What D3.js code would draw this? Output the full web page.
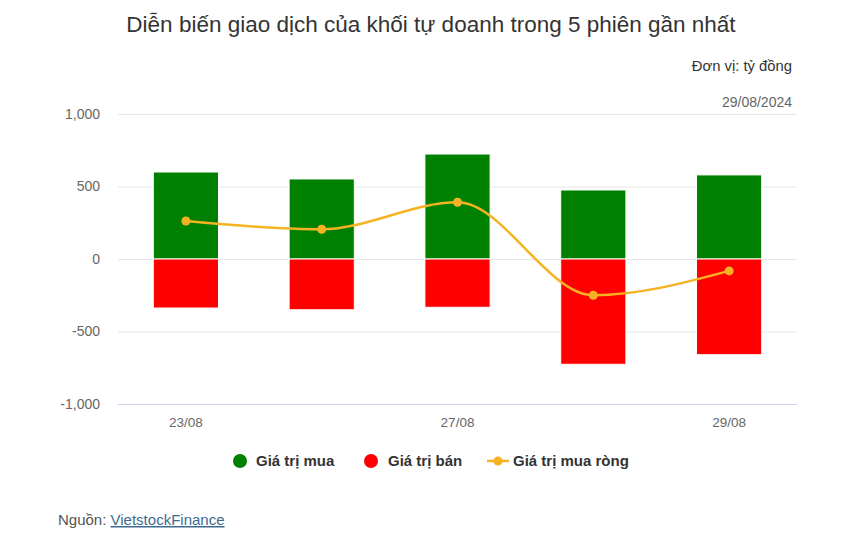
<!DOCTYPE html>
<html><head><meta charset="utf-8">
<script src="https://cdn.jsdelivr.net/npm/d3@7"></script>
<style>body{margin:0;background:#fff;font-family:"Liberation Sans",Arial,sans-serif}</style>
</head><body>
<svg id="c" width="867" height="545"></svg>
<script>
const categories = ["23/08","26/08","27/08","28/08","29/08"];
const buyValues = [600, 552, 724, 476, 580];
const sellValues = [-338, -350, -333, -726, -660];
const netValues = [262, 205, 391, -250, -82];
const yTicks = [-1000, -500, 0, 500, 1000];
const xLabelsShown = ["23/08","27/08","29/08"];
const seriesNames = ["Giá trị mua","Giá trị bán","Giá trị mua ròng"];
const colors = {buy:"#008000", sell:"#ff0000", net:"#f5b324"};

(function(){
const svg = d3.select("#c");
const pL = 118, pR = 797, pT = 114, pB = 404;
const x = d3.scaleBand().domain(categories).range([pL,pR]).paddingInner(0.52).paddingOuter(0.26);
const y = d3.scaleLinear().domain([-1000,1000]).range([pB, pT]);
const fmt = d => d3.format(",")(d).replace("\u2212","-");

svg.append("text").attr("x",431).attr("y",32).attr("text-anchor","middle")
  .attr("font-size",22.5).attr("fill","#333").text("Diễn biến giao dịch của khối tự doanh trong 5 phiên gần nhất");
svg.append("text").attr("x",792).attr("y",71).attr("text-anchor","end")
  .attr("font-size",14.8).attr("fill","#333").text("Đơn vị: tỷ đồng");
svg.append("text").attr("x",792).attr("y",107).attr("text-anchor","end")
  .attr("font-size",14).attr("fill","#666").text("29/08/2024");

// grid
const yAxis = d3.axisLeft(y).tickValues(yTicks).tickSize(-(pR-pL)).tickFormat(fmt);
const gy = svg.append("g").attr("transform",`translate(${pL},0)`).call(yAxis);
gy.select(".domain").remove();
gy.selectAll(".tick line").attr("stroke","#e6e6e6");
gy.selectAll(".tick text").attr("x",-18).attr("font-size",14).attr("fill","#666").attr("font-family","Liberation Sans, Arial, sans-serif");

// bars
svg.append("g").selectAll("rect.buy").data(buyValues).join("rect")
  .attr("x",(d,i)=>x(categories[i])).attr("width",x.bandwidth())
  .attr("y",d=>y(d)).attr("height",d=>y(0)-y(d))
  .attr("fill",colors.buy).attr("stroke","#fff").attr("stroke-width",1);
svg.append("g").selectAll("rect.sell").data(sellValues).join("rect")
  .attr("x",(d,i)=>x(categories[i])).attr("width",x.bandwidth())
  .attr("y",y(0)).attr("height",d=>y(d)-y(0))
  .attr("fill",colors.sell).attr("stroke","#fff").attr("stroke-width",1);

// x axis
const xAxis = d3.axisBottom(x).tickSize(0).tickFormat(d=>xLabelsShown.includes(d)?d:"");
const gx = svg.append("g").attr("transform",`translate(0,${pB})`).call(xAxis);
gx.select(".domain").attr("stroke","#ccd6eb").attr("d",`M${pL},0.5H${pR}`);
gx.selectAll(".tick text").attr("y",13).attr("font-size",13.5).attr("fill","#666").attr("font-family","Liberation Sans, Arial, sans-serif");

// net line
const cx = (i)=>x(categories[i])+x.bandwidth()/2;
const line = d3.line().x((d,i)=>cx(i)).y(d=>y(d)).curve(d3.curveMonotoneX);
svg.append("path").datum(netValues).attr("d",line).attr("fill","none")
  .attr("stroke",colors.net).attr("stroke-width",2.5);
svg.append("g").selectAll("circle").data(netValues).join("circle")
  .attr("cx",(d,i)=>cx(i)).attr("cy",d=>y(d)).attr("r",4.5).attr("fill",colors.net);

// legend
const lg = svg.append("g").attr("font-size",15).attr("font-weight","bold").attr("fill","#333");
lg.append("circle").attr("cx",240).attr("cy",461).attr("r",7).attr("fill",colors.buy);
lg.append("text").attr("x",256).attr("y",466).text(seriesNames[0]);
lg.append("circle").attr("cx",371).attr("cy",461).attr("r",7).attr("fill",colors.sell);
lg.append("text").attr("x",388).attr("y",466).text(seriesNames[1]);
lg.append("line").attr("x1",487).attr("x2",509).attr("y1",461).attr("y2",461).attr("stroke",colors.net).attr("stroke-width",2.5);
lg.append("circle").attr("cx",498).attr("cy",461).attr("r",4.5).attr("fill",colors.net);
lg.append("text").attr("x",513).attr("y",466).text(seriesNames[2]);

// source
const src = svg.append("text").attr("x",58).attr("y",525).attr("font-size",15).attr("fill","#555");
src.append("tspan").text("Nguồn: ");
src.append("tspan").attr("fill","#3d6b8f").attr("text-decoration","underline").text("VietstockFinance");
})();
</script>
</body></html>
